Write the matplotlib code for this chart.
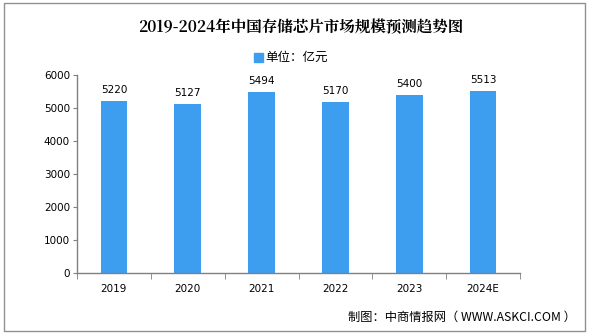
import matplotlib.pyplot as plt
import numpy as np
from matplotlib.patches import Rectangle

plt.rcParams['font.family'] = ['Noto Sans CJK SC', 'DejaVu Sans']

# 数据
years = ['2019', '2020', '2021', '2022', '2023', '2024E']
values = [5220, 5127, 5494, 5170, 5400, 5513]
yticks = [0, 1000, 2000, 3000, 4000, 5000, 6000]

bar_color = '#3d9ef0'

fig = plt.figure(figsize=(5.89, 3.36), dpi=100)
ax = fig.add_axes([0.1307, 0.1875, 0.7523, 0.5893])

x = np.arange(len(years))
ax.bar(x, values, width=0.36, color=bar_color, zorder=2)
for xi, v in zip(x, values):
    ax.text(xi, v + 180, str(v), ha='center', va='bottom', fontsize=7.5,
            family='DejaVu Sans')

ax.set_xlim(-0.5, len(years) - 0.5)
ax.set_ylim(0, 6000)
ax.set_yticks(yticks)
ax.set_yticklabels([str(t) for t in yticks], fontsize=7.5, family='DejaVu Sans')
ax.set_xticks(x)
ax.set_xticklabels(years, fontsize=7.5, family='DejaVu Sans')
ax.tick_params(axis='x', length=0, pad=8)
ax.set_xticks(np.arange(len(years) + 1) - 0.5, minor=True)
ax.tick_params(axis='x', which='minor', length=4, color='#808080')
ax.tick_params(axis='y', length=3, color='#808080', pad=2)

for s in ['top', 'right']:
    ax.spines[s].set_visible(False)
for s in ['left', 'bottom']:
    ax.spines[s].set_color('#808080')
    ax.spines[s].set_linewidth(1)

# 标题
fig.text(0.51, 0.918, '2019-2024年中国存储芯片市场规模预测趋势图', ha='center', va='center',
         fontsize=11.2, fontweight='heavy', family=['Noto Serif CJK SC', 'Noto Sans CJK SC'])

# 图例
fig.patches.append(Rectangle((0.431, 0.815), 0.015, 0.028, transform=fig.transFigure,
                             color=bar_color))
fig.text(0.451, 0.829, '单位：亿元', ha='left', va='center', fontsize=9)

# 来源
fig.text(0.978, 0.057, '制图：中商情报网（ WWW.ASKCI.COM ）', ha='right', va='center', fontsize=8.8)

# 外框
fig.patches.append(Rectangle((0.006, 0.015), 0.988, 0.975, transform=fig.transFigure,
                             fill=False, edgecolor='#909090', linewidth=1))

plt.savefig('out.png', dpi=100)
